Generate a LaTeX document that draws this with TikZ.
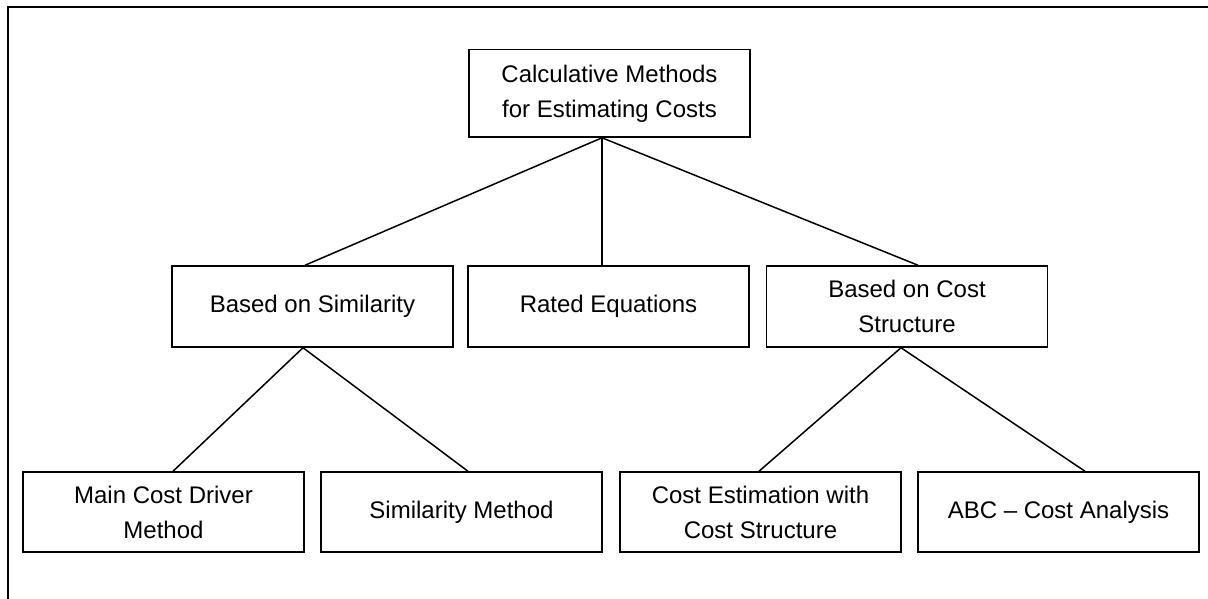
\documentclass[tikz,border=0pt]{standalone}
\usepackage{fontspec}
\setmainfont{Liberation Sans}
\usetikzlibrary{calc}
\begin{document}
\begin{tikzpicture}[x=1pt,y=-1pt,
  box/.style={draw=black, line width=1.5pt, rectangle, inner sep=0pt,
    minimum width=281pt, align=center,
    font=\fontsize{24}{35}\selectfont},
  link/.style={line width=1.5pt},
  frame/.style={line width=2.2pt}]
\useasboundingbox (0,0) rectangle (1208,599);
% page frame (top and left edges)
\draw[frame] (1208,6.7) -- (8,6.7) -- (8,599);
% root
\node[box, minimum height=87.5pt] (root) at (609.5,93.3) {Calculative Methods\\for Estimating Costs};
% second level
\node[box, minimum height=81pt] (sim) at (312.5,306.5) {Based on Similarity};
\node[box, minimum height=81pt] (rated) at (608.5,306.5) {Rated Equations};
\node[box, minimum height=81pt] (struct) at (907,306.5) {Based on Cost\\Structure};
% third level
\node[box, minimum height=80pt] (driver) at (163.5,512) {Main Cost Driver\\Method};
\node[box, minimum height=80pt] (simm) at (461.5,512) {Similarity Method};
\node[box, minimum height=80pt] (est) at (760.5,512) {Cost Estimation with\\Cost Structure};
\node[box, minimum height=80pt] (abc) at (1058.5,512) {ABC -- Cost Analysis};
% junction points on the box edges
\coordinate (r0) at ($(root.south)+(-7.5,0)$);
\coordinate (s0) at ($(sim.south)+(-9.5,0)$);
\coordinate (c0) at ($(struct.south)+(-6,0)$);
% connectors
\draw[link] (r0) -- ($(sim.north)+(-7.5,0)$);
\draw[link] (r0) -- (r0 |- rated.north);
\draw[link] (r0) -- ($(struct.north)+(11,0)$);
\draw[link] (s0) -- ($(driver.north)+(9.5,0)$);
\draw[link] (s0) -- ($(simm.north)+(6.5,0)$);
\draw[link] (c0) -- ($(est.north)+(-1.5,0)$);
\draw[link] (c0) -- ($(abc.north)+(26.5,0)$);
\end{tikzpicture}
\end{document}
